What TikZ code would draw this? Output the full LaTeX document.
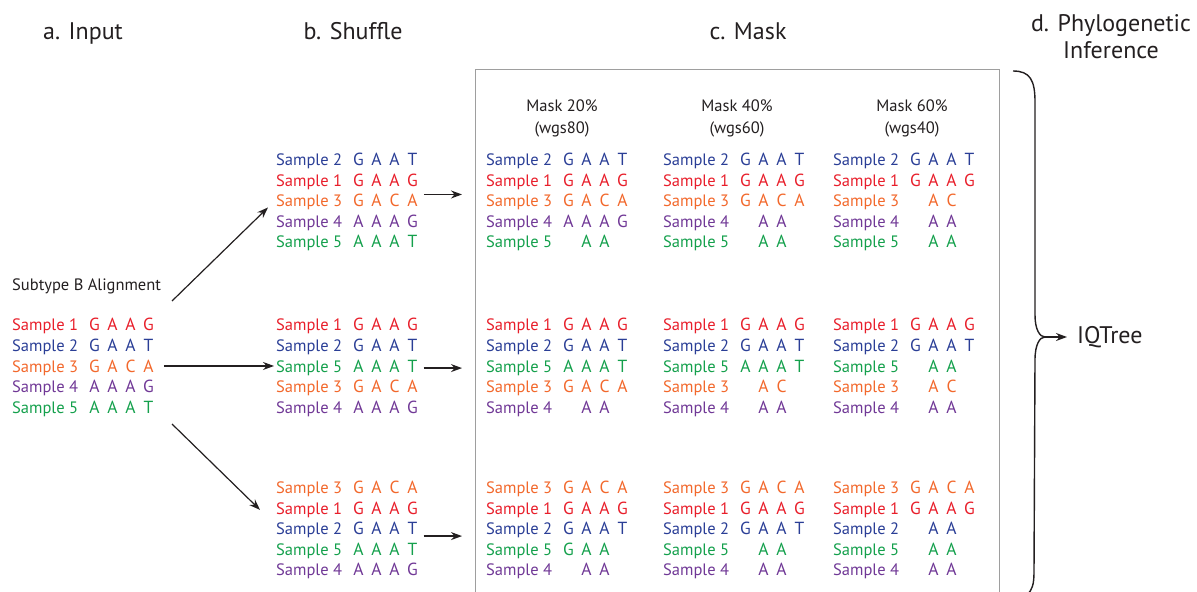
\documentclass[tikz,border=0pt]{standalone}
\usepackage{fontspec}
\setmainfont{PT Sans}
\usetikzlibrary{arrows.meta}

\definecolor{s1}{RGB}{232,30,42}
\definecolor{s2}{RGB}{42,62,150}
\definecolor{s3}{RGB}{242,104,44}
\definecolor{s4}{RGB}{112,56,150}
\definecolor{s5}{RGB}{20,160,76}
\definecolor{ink}{RGB}{35,31,32}

\tikzset{
  title/.style={font=\fontsize{24bp}{27bp}\selectfont, text=ink, align=center, inner sep=0pt},
  note/.style={font=\fontsize{16.5bp}{21.5bp}\selectfont, text=ink, align=center, inner sep=0pt},
  sample/.style={font=\fontsize{16.5bp}{20bp}\selectfont, anchor=base west, inner sep=0pt},
  letter/.style={font=\fontsize{17.5bp}{20bp}\selectfont, anchor=base, inner sep=0pt},
  flow/.style={-{Stealth[length=11bp,width=8bp]}, line width=1.2bp, ink},
  boxline/.style={draw=black!38, line width=0.9bp},
  brace/.style={line width=1.4bp, ink},
}

% one alignment: name, left x, first baseline, rows
\newcommand{\seqblock}[4]{%
  \foreach \smp/\gA/\gB/\gC/\gD [count=\r] in {#4} {
    \node[sample, text=s\smp] (#1-\r) at (#2, #3+20.6*\r-20.6) {Sample \smp};
    \node[letter, text=s\smp] (#1-\r-a) at (#2+82.5, #3+20.6*\r-20.6) {\gA};
    \node[letter, text=s\smp] (#1-\r-b) at (#2+100.5, #3+20.6*\r-20.6) {\gB};
    \node[letter, text=s\smp] (#1-\r-c) at (#2+118.5, #3+20.6*\r-20.6) {\gC};
    \node[letter, text=s\smp] (#1-\r-d) at (#2+136.5, #3+20.6*\r-20.6) {\gD};
  }%
}

\begin{document}
\begin{tikzpicture}[x=1bp, y=-1bp]
    \useasboundingbox (0,0) rectangle (1197,592);

    % Headings
    \node[title, anchor=base] (hInput) at (83,40) {a. Input};
    \node[title, anchor=base] (hShuffle) at (353,40) {b. Shuffle};
    \node[title, anchor=base] (hMask) at (748,40) {c. Mask};
    \node[title] (hInfer) at (1111,37) {d. Phylogenetic\\Inference};

    % Input
    \node[note, anchor=base west] (align) at (12,291) {Subtype B Alignment};
    \seqblock{inp}{12}{331}{1/G/A/A/G, 2/G/A/A/T, 3/G/A/C/A, 4/A/A/A/G, 5/A/A/A/T}

    % Shuffle
    \seqblock{shufA}{276}{165.5}{2/G/A/A/T, 1/G/A/A/G, 3/G/A/C/A, 4/A/A/A/G, 5/A/A/A/T}
    \seqblock{shufB}{276}{331}{1/G/A/A/G, 2/G/A/A/T, 5/A/A/A/T, 3/G/A/C/A, 4/A/A/A/G}
    \seqblock{shufC}{276}{493.5}{3/G/A/C/A, 1/G/A/A/G, 2/G/A/A/T, 5/A/A/A/T, 4/A/A/A/G}

    % Mask box
    \draw[boxline] (475,593) -- (475,69) -- (999,69) -- (999,593);
    \node[note] (m20) at (562,118.5) {Mask 20\%\\(wgs80)};
    \node[note] (m40) at (737,118.5) {Mask 40\%\\(wgs60)};
    \node[note] (m60) at (912,118.5) {Mask 60\%\\(wgs40)};

    % Mask, first shuffle
    \seqblock{m20a}{486}{165.5}{2/G/A/A/T, 1/G/A/A/G, 3/G/A/C/A, 4/A/A/A/G, 5/{}/A/A/{}}
    \seqblock{m40a}{663}{165.5}{2/G/A/A/T, 1/G/A/A/G, 3/G/A/C/A, 4/{}/A/A/{}, 5/{}/A/A/{}}
    \seqblock{m60a}{833}{165.5}{2/G/A/A/T, 1/G/A/A/G, 3/{}/A/C/{}, 4/{}/A/A/{}, 5/{}/A/A/{}}

    % Mask, second shuffle
    \seqblock{m20b}{486}{331}{1/G/A/A/G, 2/G/A/A/T, 5/A/A/A/T, 3/G/A/C/A, 4/{}/A/A/{}}
    \seqblock{m40b}{663}{331}{1/G/A/A/G, 2/G/A/A/T, 5/A/A/A/T, 3/{}/A/C/{}, 4/{}/A/A/{}}
    \seqblock{m60b}{833}{331}{1/G/A/A/G, 2/G/A/A/T, 5/{}/A/A/{}, 3/{}/A/C/{}, 4/{}/A/A/{}}

    % Mask, third shuffle
    \seqblock{m20c}{486}{493.5}{3/G/A/C/A, 1/G/A/A/G, 2/G/A/A/T, 5/G/A/A/{}, 4/{}/A/A/{}}
    \seqblock{m40c}{663}{493.5}{3/G/A/C/A, 1/G/A/A/G, 2/G/A/A/T, 5/{}/A/A/{}, 4/{}/A/A/{}}
    \seqblock{m60c}{833}{493.5}{3/G/A/C/A, 1/G/A/A/G, 2/{}/A/A/{}, 5/{}/A/A/{}, 4/{}/A/A/{}}

    % Input to shuffle
    \coordinate (fanTop) at (172,301);
    \coordinate (fanBot) at (172,424);
    \draw[flow] (fanTop) -- ([xshift=-8bp,yshift=-5bp]shufA-3.west);
    \path ([xshift=10bp]inp-3-d.east) coordinate (fanMid);
    \draw[flow, shorten >=2bp] (fanMid) -- (fanMid -| shufB-3.west);
    \draw[flow] (fanBot) -- ([xshift=-16bp]shufC-2.west);

    % Shuffle to mask
    \path ([xshift=6bp,yshift=6bp]shufA-3-d.east) coordinate (toMaskA);
    \path ([xshift=6bp,yshift=-2bp]shufB-3-d.east) coordinate (toMaskB);
    \path ([xshift=6bp,yshift=-7.5bp]shufC-3-d.east) coordinate (toMaskC);
    \draw[flow, shorten >=24bp] (toMaskA) -- (toMaskA -| m20a-3.west);
    \draw[flow, shorten >=24bp] (toMaskB) -- (toMaskB -| m20b-3.west);
    \draw[flow, shorten >=24bp] (toMaskC) -- (toMaskC -| m20c-3.west);

    % Brace
    \coordinate (brTip) at (1045,337);
    \draw[brace] (1013,71) .. controls (1030,71) and (1035,80) .. (1035,102)
        -- (1035,315) .. controls (1035,330) and (1040,337) .. (brTip)
        .. controls (1040,337) and (1035,344) .. (1035,360)
        -- (1034,572) .. controls (1034,585) and (1032,590) .. (1027,595);

    % Inference
    \node[title, anchor=base west] (iq) at (1077,343.5) {IQTree};
    \draw[flow, shorten >=10bp] (brTip) -- (brTip -| iq.west);
\end{tikzpicture}
\end{document}
